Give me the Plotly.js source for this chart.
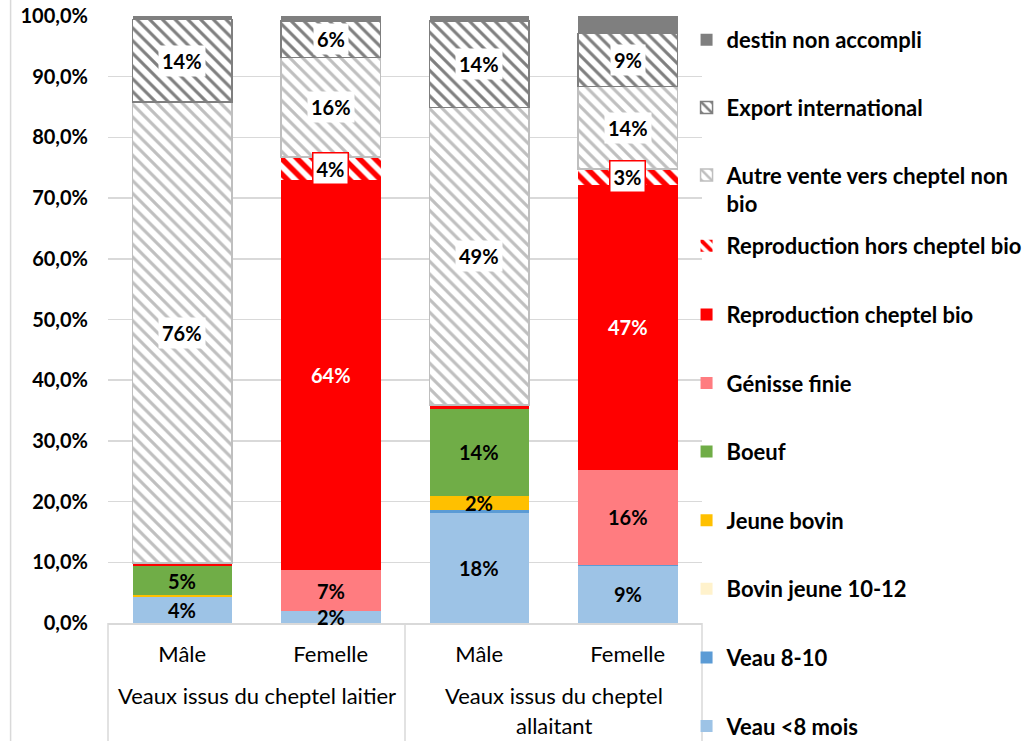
<!DOCTYPE html>
<html>
<head>
<meta charset="utf-8">
<script src="https://cdn.plot.ly/plotly-3.0.1.min.js"></script>
<style>
  html, body { margin: 0; padding: 0; background: #ffffff; }
  #chart { width: 1036px; height: 741px; }
</style>
</head>
<body>
<div id="chart"></div>
<script>
// ---------- DATA (percent of calves) ----------
const categories = ['Mâle', 'Femelle', 'Mâle', 'Femelle'];
const groupLabels = ['Veaux issus du cheptel laitier', 'Veaux issus du cheptel<br>allaitant'];
const categoryGroup = [0, 0, 1, 1];

const veauMoins8Mois   = [4.3, 2.0, 18.1, 9.4];
const veau8a10         = [0.0, 0.0, 0.5, 0.2];
const bovinJeune10a12  = [0.0, 0.0, 0.0, 0.0];
const jeuneBovin       = [0.3, 0.0, 2.3, 0.0];
const boeuf            = [4.8, 0.0, 14.4, 0.0];
const genisseFinie     = [0.0, 6.7, 0.0, 15.6];
const reproCheptelBio  = [0.5, 64.3, 0.6, 47.0];
const reproHorsBio     = [0.0, 3.8, 0.0, 2.6];
const autreVenteNonBio = [75.9, 16.4, 49.0, 13.6];
const exportInter      = [13.6, 6.0, 14.3, 8.7];
const destinNonAccompli= [0.6, 0.8, 0.8, 2.9];

const yTickVals = [0, 10, 20, 30, 40, 50, 60, 70, 80, 90, 100];
const yTickText = yTickVals.map(v => v.toFixed(1).replace('.', ',') + '%');

// ---------- STYLES ----------
const FONT = 'Lato, "Open Sans", "DejaVu Sans", sans-serif';
const series = [
  {name: 'Veau <8 mois', values: veauMoins8Mois, color: '#9dc3e6', label: 'plain', legend: 'legend2'},
  {name: 'Veau 8-10', values: veau8a10, color: '#5b9bd5', label: 'plain', legend: 'legend2'},
  {name: 'Bovin jeune 10-12', values: bovinJeune10a12, color: '#fff2cc', label: 'plain', legend: 'legend2'},
  {name: 'Jeune bovin', values: jeuneBovin, color: '#ffc000', label: 'plain', legend: 'legend2'},
  {name: 'Boeuf', values: boeuf, color: '#70ad47', label: 'plain', legend: 'legend2'},
  {name: 'Génisse finie', values: genisseFinie, color: '#ff7c80', label: 'plain', legend: 'legend2'},
  {name: 'Reproduction cheptel bio', values: reproCheptelBio, color: '#ff0000', label: 'white', legend: 'legend2'},
  {name: 'Reproduction hors cheptel bio', values: reproHorsBio, color: '#ff0000', label: 'redbox', legend: 'legend2',
    pattern: {shape: '\\', fgcolor: '#ff0000', bgcolor: '#ffffff', size: 11, solidity: 0.5}},
  {name: 'Autre vente vers cheptel non<br>bio', values: autreVenteNonBio, color: '#bfbfbf', label: 'box', legend: 'legend',
    pattern: {shape: '\\', fgcolor: '#bfbfbf', bgcolor: '#ffffff', size: 9, solidity: 0.35}, line: '#bfbfbf'},
  {name: 'Export international', values: exportInter, color: '#7f7f7f', label: 'box', legend: 'legend',
    pattern: {shape: '\\', fgcolor: '#7f7f7f', bgcolor: '#ffffff', size: 9, solidity: 0.35}, line: '#7f7f7f'},
  {name: 'destin non accompli', values: destinNonAccompli, color: '#7f7f7f', label: null, legend: 'legend'}
];

const xIdx = categories.map((c, i) => i);

const traces = series.map((s, k) => {
  const marker = {color: s.color, line: {width: s.line ? 1.5 : 0, color: s.line || s.color}};
  if (s.pattern) marker.pattern = Object.assign({fillmode: 'replace'}, s.pattern);
  return {
    type: 'bar',
    name: s.name,
    x: xIdx,
    y: s.values,
    width: 0.67,
    marker: marker,
    legend: s.legend,
    legendgroup: 'g' + k,
    legendrank: series.length - k,
    hoverinfo: 'name+y'
  };
});

// ---------- DATA LABELS ----------
const annotations = [];
xIdx.forEach(i => {
  let base = 0;
  series.forEach(s => {
    const v = s.values[i];
    if (s.label && v >= 1.5) {
      const a = {
        x: i, y: base + v / 2, xref: 'x', yref: 'y',
        text: Math.round(v) + '%', showarrow: false,
        font: {family: FONT, size: 20, weight: 700, color: s.label === 'white' ? '#ffffff' : '#000000'}
      };
      if (s.label === 'box' || s.label === 'redbox') {
        a.bgcolor = '#ffffff';
        a.borderpad = 3;
      }
      if (s.label === 'redbox') {
        a.bordercolor = '#ff0000';
        a.borderwidth = 1.5;
      }
      annotations.push(a);
    }
    base += v;
  });
});

// ---------- GROUP LABELS ----------
groupLabels.forEach((g, gi) => {
  const members = xIdx.filter(i => categoryGroup[i] === gi);
  const center = members.reduce((a, b) => a + b, 0) / members.length;
  g.split('<br>').forEach((line, li) => {
    annotations.push({
      x: center, xref: 'x', y: 0, yref: 'paper', yanchor: 'top',
      yshift: -57 - 30 * li, text: line, showarrow: false,
      font: {family: FONT, size: 22, color: '#000000'}
    });
  });
});

// ---------- FRAME LINES ----------
const lineStyle = {color: '#d9d9d9', width: 1.5};
const shapes = [];
[0, 0.5, 1].forEach(px => {
  shapes.push({type: 'line', xref: 'paper', yref: 'paper', x0: px, x1: px, y0: 0, y1: -0.2, line: lineStyle});
});
shapes.push({type: 'line', xref: 'paper', yref: 'paper', x0: -0.164, x1: -0.164, y0: -0.2, y1: 1.03, line: lineStyle});

const layout = {
  width: 1036, height: 741,
  margin: {l: 108, r: 334, t: 16, b: 118, autoexpand: false},
  paper_bgcolor: '#ffffff', plot_bgcolor: '#ffffff',
  barmode: 'stack',
  bargap: 0,
  separators: ', ',
  font: {family: FONT, size: 20, color: '#000000'},
  xaxis: {
    type: 'linear', range: [-0.5, 3.5], fixedrange: true,
    tickvals: xIdx, ticktext: categories, ticks: '',
    showgrid: false, zeroline: false,
    showline: true, linecolor: '#d9d9d9', linewidth: 1.5,
    ticklabelstandoff: 11,
    tickfont: {family: FONT, size: 22, color: '#000000'}
  },
  yaxis: {
    range: [0, 100], fixedrange: true,
    tickvals: yTickVals, ticktext: yTickText,
    showgrid: true, gridcolor: '#d9d9d9', gridwidth: 1.5,
    zeroline: false, showline: false, ticks: '',
    ticklabelstandoff: 19,
    tickfont: {family: FONT, size: 20, weight: 700, color: '#000000'}
  },
  legend: {
    xref: 'paper', x: 0.974, xanchor: 'left',
    yref: 'paper', y: (623 - 19) / 607, yanchor: 'top',
    traceorder: 'grouped', tracegroupgap: 36, valign: 'top',
    bgcolor: 'rgba(0,0,0,0)',
    font: {family: FONT, size: 22, weight: 700, color: '#000000'}
  },
  legend2: {
    xref: 'paper', x: 0.974, xanchor: 'left',
    yref: 'paper', y: (623 - 225) / 607, yanchor: 'top',
    traceorder: 'grouped', tracegroupgap: 37, valign: 'top',
    bgcolor: 'rgba(0,0,0,0)',
    font: {family: FONT, size: 22, weight: 700, color: '#000000'}
  },
  annotations: annotations,
  shapes: shapes
};

Plotly.newPlot('chart', traces, layout, {displayModeBar: false, staticPlot: true});
</script>
</body>
</html>
